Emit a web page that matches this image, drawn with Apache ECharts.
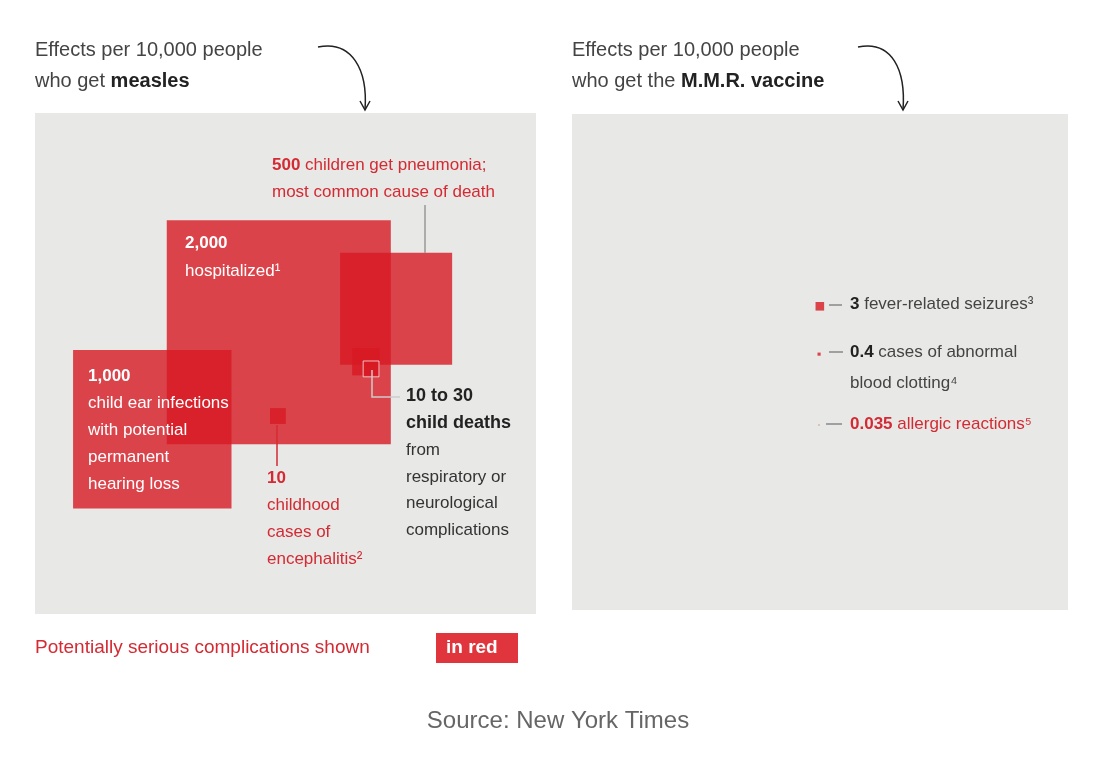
<!DOCTYPE html>
<html>
<head>
<meta charset="utf-8">
<script src="https://cdn.jsdelivr.net/npm/echarts@6/dist/echarts.min.js"></script>
<style>html,body{margin:0;background:#fff}#chart{width:1102px;height:760px}</style>
</head>
<body>
<div id="chart"></div>
<script>
// 每 10,000 人的影响 (麻疹)
const measlesLabels = ['2,000 hospitalized', '1,000 ear infections', '500 pneumonia', '30 deaths', '10 deaths', '10 encephalitis'];
const measlesValues = [2000, 1000, 500, 30, 10, 10];
// 方块左上角位置 (单位: 10,000 人方框 = 100)
const measlesX = [26.3, 7.6, 60.9, 63.3, 65.5, 46.9];
const measlesY = [21.4, 47.3, 27.9, 46.9, 49.5, 58.9];
const measlesKind = ['red', 'red', 'red', 'black', 'black', 'red'];
// 疫苗
const vaccineLabels = ['3 seizures', '0.4 clotting', '0.035 allergic'];
const vaccineValues = [3, 0.4, 0.035];
const vaccineX = [49.1, 49.5, 49.7];
const vaccineY = [37.9, 48.1, 62.6];
const vaccineKind = ['gray', 'gray', 'red'];

const FONT = '"Liberation Sans", Arial, sans-serif';
const RED = '#d42a33';
const fills = {
    red: 'rgba(215,25,35,0.8)',
    black: '#000',
    gray: '#666'
};

const build = function (xs, ys, vals, kinds) {
    return vals.map(function (v, i) {
        return [xs[i], ys[i], Math.sqrt(v), kinds[i]];
    });
};

const renderSquare = function (params, api) {
    const x = api.value(0), y = api.value(1), s = api.value(2);
    const kind = params.data ? params.data[3] : 'red';
    const p0 = api.coord([x, y]);
    const p1 = api.coord([x + s, y + s]);
    const w = Math.max(p1[0] - p0[0], 1), h = Math.max(p1[1] - p0[1], 1);
    const isInner = params.dataIndex === 4 && params.seriesIndex === 0;
    return {
        type: 'rect',
        shape: {x: p0[0], y: p0[1], width: w, height: h},
        style: {
            fill: fills[kind],
            stroke: isInner ? 'rgba(255,255,255,0.7)' : null,
            lineWidth: isInner ? 1 : 0
        }
    };
};

const axis = function (idx, inverse) {
    return {gridIndex: idx, type: 'value', min: 0, max: 100, inverse: inverse, show: false};
};

const txt = function (x, y, text, extra) {
    return Object.assign({
        type: 'text', x: x, y: y, z: 10,
        style: Object.assign({
            text: text, fill: '#333', font: '17px ' + FONT, textVerticalAlign: 'middle'
        }, extra || {})
    });
};

const rich = {
    b: {fontWeight: 'bold', fontFamily: FONT, fontSize: 17, fill: '#222'},
    rb: {fontWeight: 'bold', fontFamily: FONT, fontSize: 17, fill: RED},
    r: {fontFamily: FONT, fontSize: 17, fill: RED},
    n: {fontFamily: FONT, fontSize: 17, fill: '#444'}
};
const richTxt = function (x, y, text, size) {
    return {
        type: 'text', x: x, y: y, z: 10,
        style: {text: text, rich: rich, fill: '#444', font: (size || 17) + 'px ' + FONT, textVerticalAlign: 'middle'}
    };
};

const line = function (pts, color) {
    return {type: 'polyline', z: 9, shape: {points: pts}, style: {stroke: color || '#888', lineWidth: 1.5, fill: null}};
};

const arrow = function (x1, y1, cx1, cy1, cx2, cy2, x2, y2) {
    return [
        {type: 'bezierCurve', z: 10, shape: {x1: x1, y1: y1, cpx1: cx1, cpy1: cy1, cpx2: cx2, cpy2: cy2, x2: x2, y2: y2},
            style: {stroke: '#222', lineWidth: 1.5, fill: null}},
        {type: 'polyline', z: 10, shape: {points: [[x2 - 5, y2 - 9], [x2, y2], [x2 + 5, y2 - 9]]},
            style: {stroke: '#222', lineWidth: 1.5, fill: null}}
    ];
};

const chart = echarts.init(document.getElementById('chart'));
const titleFont = '20px ' + FONT;
const titleRich = {b: {fontWeight: 'bold', fontFamily: FONT, fontSize: 20, fill: '#222'}};

chart.setOption({
    animation: false,
    grid: [
        {left: 35, top: 113, width: 501, height: 501, backgroundColor: '#e8e8e6', show: true, borderWidth: 0},
        {left: 572, top: 114, width: 496, height: 496, backgroundColor: '#e8e8e6', show: true, borderWidth: 0}
    ],
    xAxis: [axis(0, false), axis(1, false)],
    yAxis: [axis(0, true), axis(1, true)],
    series: [
        {type: 'custom', xAxisIndex: 0, yAxisIndex: 0, renderItem: renderSquare,
            data: build(measlesX, measlesY, measlesValues, measlesKind), names: measlesLabels},
        {type: 'custom', xAxisIndex: 1, yAxisIndex: 1, renderItem: renderSquare,
            data: build(vaccineX, vaccineY, vaccineValues, vaccineKind), names: vaccineLabels}
    ],
    graphic: [
        {type: 'text', x: 35, y: 50, style: {text: 'Effects per 10,000 people', font: titleFont, fill: '#444', textVerticalAlign: 'middle'}},
        {type: 'text', x: 35, y: 81, style: {text: 'who get {b|measles}', rich: titleRich, font: titleFont, fill: '#444', textVerticalAlign: 'middle'}},
        {type: 'text', x: 572, y: 50, style: {text: 'Effects per 10,000 people', font: titleFont, fill: '#444', textVerticalAlign: 'middle'}},
        {type: 'text', x: 572, y: 81, style: {text: 'who get the {b|M.M.R. vaccine}', rich: titleRich, font: titleFont, fill: '#444', textVerticalAlign: 'middle'}}
    ].concat(arrow(318, 47, 352, 40, 368, 70, 365, 110))
     .concat(arrow(858, 47, 892, 40, 906, 70, 903, 110))
     .concat([
        richTxt(272, 165, '{rb|500} {r|children get pneumonia;}'),
        txt(272, 192, 'most common cause of death', {fill: RED}),
        line([[425, 205], [425, 253]], '#999'),
        txt(185, 243, '2,000', {fill: '#fff', font: 'bold 17px ' + FONT}),
        txt(185, 271, 'hospitalized¹', {fill: '#fff'}),
        txt(88, 376, '1,000', {fill: '#fff', font: 'bold 17px ' + FONT}),
        txt(88, 403, 'child ear infections', {fill: '#fff'}),
        txt(88, 430, 'with potential', {fill: '#fff'}),
        txt(88, 457, 'permanent', {fill: '#fff'}),
        txt(88, 484, 'hearing loss', {fill: '#fff'}),
        line([[277, 425], [277, 466]], RED),
        txt(267, 478, '10', {fill: RED, font: 'bold 17px ' + FONT}),
        txt(267, 505, 'childhood', {fill: RED}),
        txt(267, 532, 'cases of', {fill: RED}),
        txt(267, 559, 'encephalitis²', {fill: RED}),
        line([[372, 370], [372, 397], [400, 397]], '#ccc'),
        txt(406, 396, '10 to 30', {fill: '#222', font: 'bold 18px ' + FONT}),
        txt(406, 423, 'child deaths', {fill: '#222', font: 'bold 18px ' + FONT}),
        txt(406, 450, 'from'),
        txt(406, 477, 'respiratory or'),
        txt(406, 503, 'neurological'),
        txt(406, 530, 'complications'),
        line([[829, 305], [842, 305]], '#888'),
        richTxt(850, 304, '{b|3} {n|fever-related seizures³}'),
        line([[829, 352], [843, 352]], '#888'),
        richTxt(850, 352, '{b|0.4} {n|cases of abnormal}'),
        txt(850, 383, 'blood clotting⁴', {fill: '#444'}),
        line([[826, 424], [842, 424]], '#888'),
        richTxt(850, 424, '{rb|0.035} {r|allergic reactions⁵}'),
        txt(35, 648, 'Potentially serious complications shown', {fill: RED, font: '19px ' + FONT}),
        {type: 'rect', shape: {x: 436, y: 633, width: 82, height: 30}, style: {fill: '#e0353d'}},
        txt(446, 648, 'in red', {fill: '#fff', font: 'bold 19px ' + FONT}),
        txt(558, 721, 'Source: New York Times', {fill: '#666', font: '24px ' + FONT, textAlign: 'center'})
    ])
});
</script>
</body>
</html>
